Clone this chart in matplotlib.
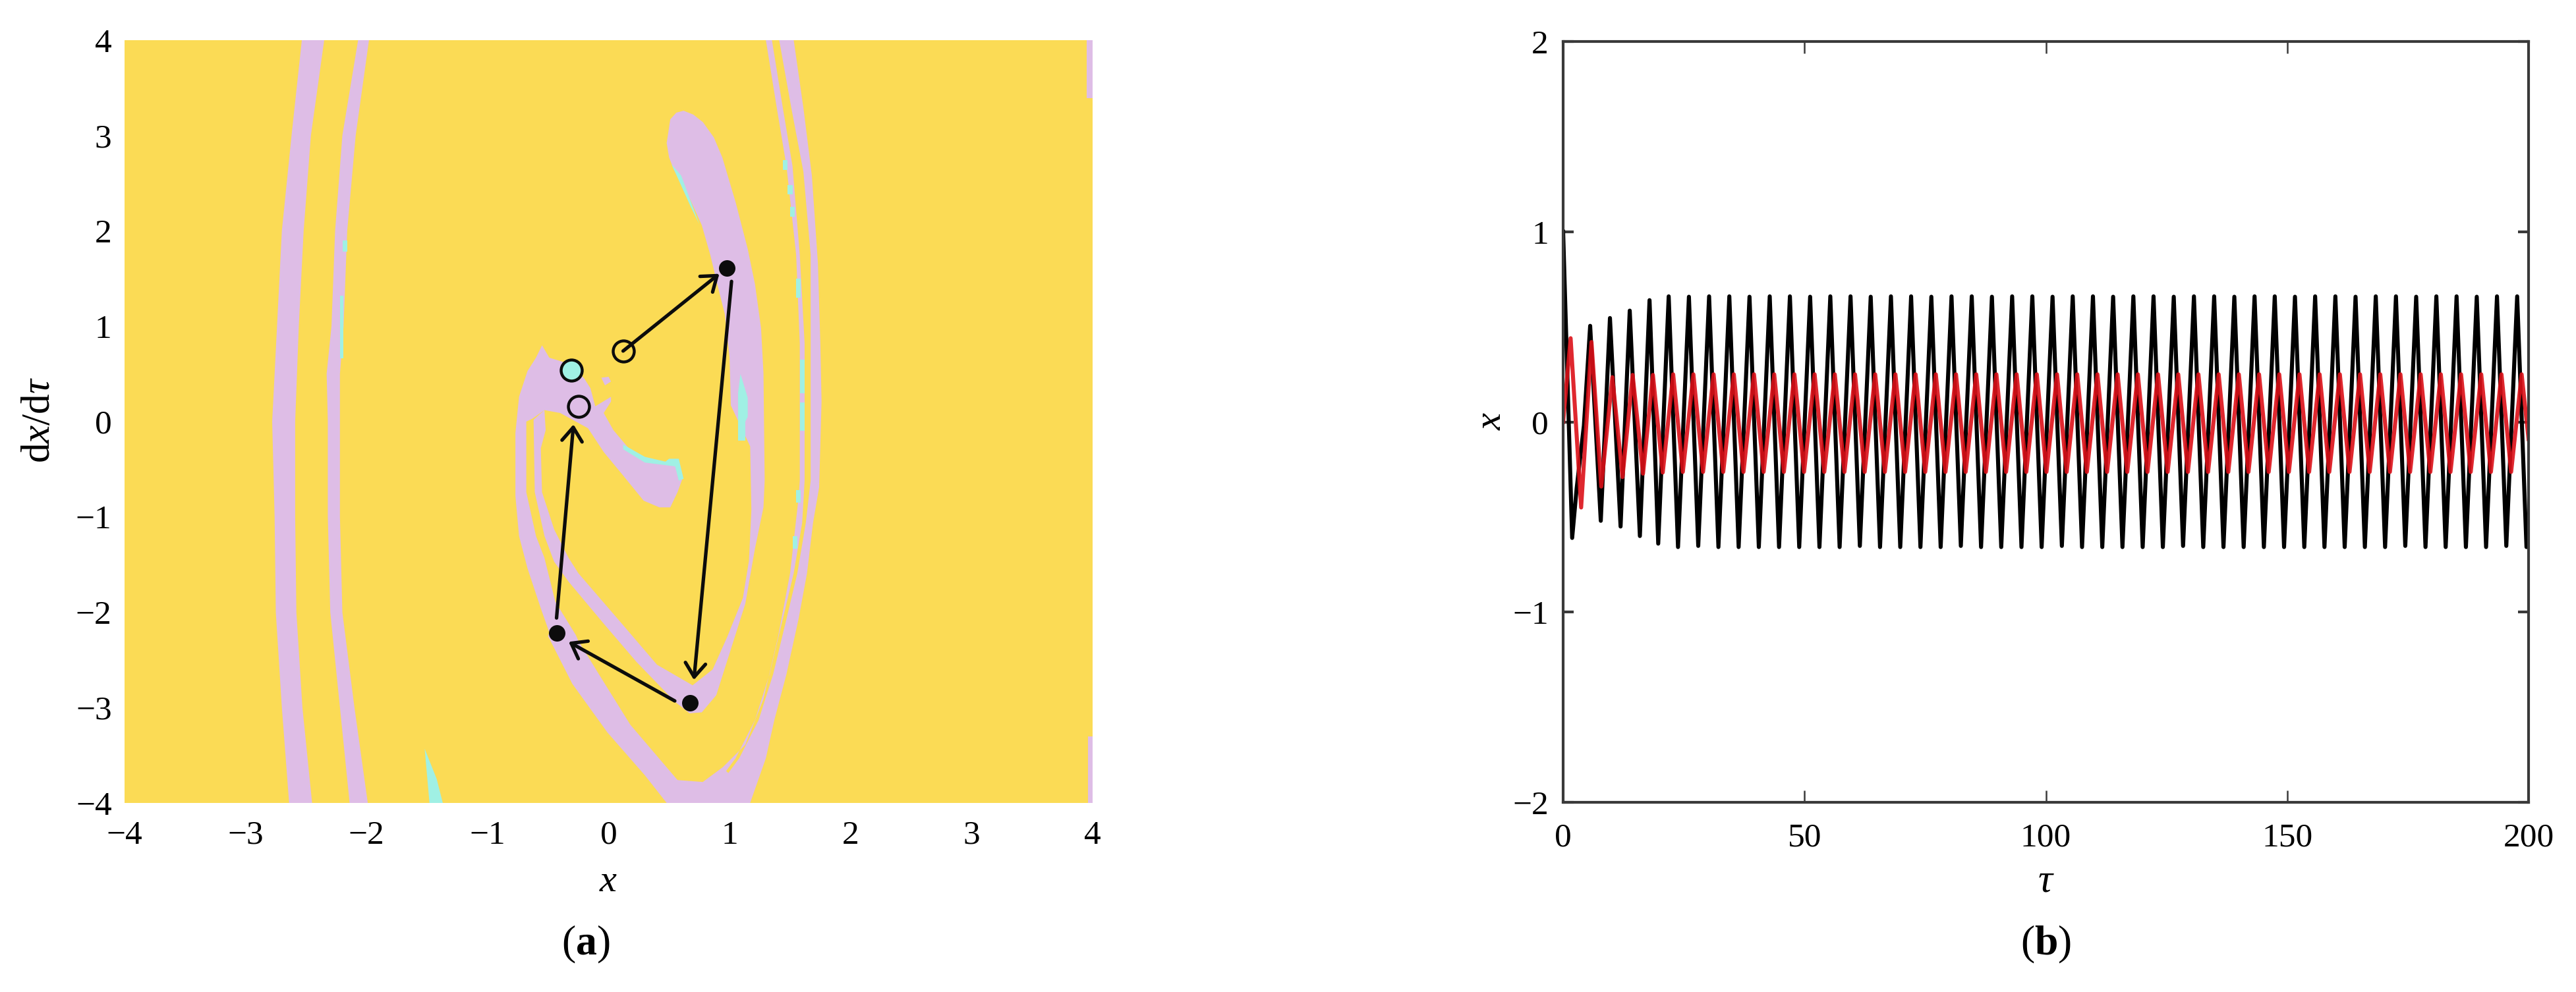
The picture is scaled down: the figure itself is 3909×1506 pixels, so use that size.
import matplotlib.pyplot as plt
import numpy as np

# times-like fonts, mathtext has to follow them
plt.rcParams.update(
    {
        "font.family": "Liberation Serif",
        "font.size": 37,
        "mathtext.fontset": "custom",
        "mathtext.rm": "Liberation Serif",
        "mathtext.it": "Liberation Serif:italic",
        "mathtext.bf": "Liberation Serif:bold",
        "axes.unicode_minus": True,
    }
)

yellow = "#FBDB55"
lilac = "#DEBDE6"
cyan = "#A0F0E4"
spine_col = "#3a3a3a"

# ---- panel (a): basin regions, (x, dx/dtau) outlines
strand_left = [(-2.535, 4), (-2.35, 4), (-2.46, 3), (-2.52, 2), (-2.56, 1), (-2.59, 0), (-2.59, -1),
               (-2.58, -2), (-2.53, -3), (-2.45, -4), (-2.64, -4), (-2.7, -3), (-2.75, -2), (-2.76, -1),
               (-2.78, 0), (-2.74, 1), (-2.7, 2), (-2.62, 3)]
strand_second = [(-2.07, 4), (-1.98, 4), (-2.09, 3), (-2.16, 2), (-2.19, 1), (-2.22, 0.5), (-2.22, -1),
                 (-2.2, -2), (-2.1, -3), (-1.99, -4), (-2.14, -4), (-2.22, -3), (-2.3, -2), (-2.32, -1),
                 (-2.32, 0), (-2.33, 0.5), (-2.29, 1), (-2.26, 2), (-2.2, 3)]
blade = [(0.62, 3.26), (0.7, 3.22), (0.78, 3.14), (0.87, 2.98), (0.94, 2.77), (1.05, 2.3), (1.15, 1.81),
         (1.21, 1.44), (1.26, 0.98), (1.28, 0.51), (1.29, -0.62), (1.28, -0.9), (1.21, -1.33), (1.13, -1.91),
         (1.01, -2.39), (0.89, -2.87), (0.77, -3.05), (0.67, -3.06), (0.55, -2.94), (0.7, -2.76),
         (0.86, -2.6), (0.98, -2.26), (1.11, -1.85), (1.16, -1.46), (1.18, -0.93), (1.17, -0.26),
         (1.01, 0.17), (1.0, 0.67), (0.96, 1.13), (0.91, 1.38), (0.84, 1.75), (0.77, 2.06), (0.66, 2.37),
         (0.54, 2.64), (0.5, 2.77), (0.48, 2.92), (0.51, 3.17), (0.56, 3.24)]
loop = [(-0.55, 0.8), (-0.6, 0.67), (-0.67, 0.53), (-0.74, 0.26), (-0.77, -0.12), (-0.77, -0.78),
        (-0.74, -1.2), (-0.67, -1.54), (-0.56, -1.96), (-0.49, -2.21), (-0.5, -2.25), (-0.3, -2.75),
        (-0.01, -3.26), (0.3, -3.71), (0.48, -4), (0.75, -4), (0.72, -3.85), (0.57, -3.76), (0.18, -3.18),
        (-0.08, -2.65), (-0.25, -2.3), (-0.27, -2.24), (-0.44, -1.89), (-0.53, -1.43), (-0.6, -1.2),
        (-0.68, -0.74), (-0.68, 0), (-0.63, 0.03), (-0.53, 0.12), (-0.4, 0.09), (-0.17, -0.07),
        (-0.04, -0.32), (0.11, -0.55), (0.29, -0.83), (0.42, -0.9), (0.51, -0.9), (0.57, -0.74),
        (0.61, -0.6), (0.58, -0.42), (0.47, -0.44), (0.33, -0.39), (0.18, -0.3), (0.04, -0.09),
        (-0.04, 0.09), (0.02, 0.21), (0.02, 0.26), (-0.11, 0.16), (-0.15, 0.35), (-0.2, 0.45),
        (-0.31, 0.6), (-0.49, 0.67)]
inner_strand = [(-0.62, 0.02), (-0.61, -0.74), (-0.53, -1.2), (-0.45, -1.47), (-0.33, -1.68), (-0.04, -2.12),
                (0.23, -2.52), (0.55, -2.94), (0.7, -2.77), (0.4, -2.55), (0.11, -2.12), (-0.25, -1.59),
                (-0.33, -1.43), (-0.45, -1.13), (-0.55, -0.74), (-0.56, -0.28), (-0.52, -0.09), (-0.53, 0.12)]
arc_outer = [(1.41, 4), (1.53, 4), (1.61, 3.29), (1.68, 2.58), (1.73, 1.66), (1.75, 0.82), (1.76, 0.21),
             (1.74, -0.69), (1.69, -1.06), (1.64, -1.59), (1.57, -2.07), (1.47, -2.65), (1.37, -3.13),
             (1.3, -3.53), (1.17, -4), (0.85, -4), (0.9, -3.84), (1.08, -3.53), (1.24, -3.13), (1.36, -2.65),
             (1.47, -2.07), (1.56, -1.59), (1.63, -1.06), (1.67, -0.62), (1.67, 0.82), (1.67, 1.75),
             (1.61, 2.62), (1.51, 3.29)]
arc_thin = [(1.3, 4), (1.35, 4), (1.44, 3.29), (1.52, 2.68), (1.58, 1.75), (1.62, 0.82), (1.62, -0.62),
            (1.6, -1.06), (1.53, -1.59), (1.44, -2.07), (1.33, -2.65), (1.21, -3.13), (1.05, -3.53),
            (0.87, -3.84), (0.8, -4), (0.72, -4), (0.78, -3.78), (0.94, -3.63), (1.13, -3.39), (1.28, -2.91),
            (1.4, -2.26), (1.5, -1.59), (1.57, -0.8), (1.58, -0.62), (1.58, 0.82), (1.55, 1.75),
            (1.47, 2.68), (1.39, 3.29)]
arc_foot = [(0.57, -3.76), (0.78, -3.78), (0.94, -3.63), (1.02, -3.72), (0.92, -3.86), (0.9, -4), (0.55, -4)]
edge_top = [(3.95, 4), (4, 4), (4, 3.39), (3.95, 3.39)]
edge_bottom = [(3.96, -3.3), (4, -3.3), (4, -4), (3.96, -4)]
spot = [(-0.06, 0.46), (0.0, 0.47), (0.02, 0.42), (-0.03, 0.38)]
lilac_shapes = [strand_left, strand_second, blade, loop, inner_strand, arc_outer, arc_thin, arc_foot,
                edge_top, edge_bottom, spot]

sliver = [(-1.52, -3.43), (-1.48, -4), (-1.37, -4), (-1.42, -3.75)]
blade_edge = [(0.52, 2.7), (0.6, 2.58), (0.75, 2.07), (0.68, 2.25)]
blade_strip = [(1.09, 0.5), (1.15, 0.25), (1.15, 0.05), (1.13, 0), (1.13, -0.2), (1.07, -0.2), (1.07, 0.3)]
diag_edge = [(0.12, -0.24), (0.3, -0.37), (0.47, -0.42), (0.5, -0.39), (0.58, -0.39), (0.62, -0.6),
             (0.58, -0.62), (0.55, -0.47), (0.3, -0.43), (0.12, -0.29)]
second_strip = [(-2.22, 1.32), (-2.19, 1.32), (-2.19, 0.66), (-2.22, 0.66)]
second_tick = [(-2.2, 1.9), (-2.16, 1.9), (-2.16, 1.78), (-2.2, 1.78)]
arc_ticks = [[(1.44, 2.74), (1.48, 2.74), (1.48, 2.64), (1.44, 2.64)],
             [(1.48, 2.48), (1.52, 2.48), (1.52, 2.38), (1.48, 2.38)],
             [(1.5, 2.25), (1.54, 2.25), (1.54, 2.15), (1.5, 2.15)],
             [(1.55, 1.5), (1.59, 1.5), (1.59, 1.3), (1.55, 1.3)],
             [(1.58, 0.65), (1.62, 0.65), (1.62, 0.3), (1.58, 0.3)],
             [(1.58, 0.2), (1.62, 0.2), (1.62, -0.1), (1.58, -0.1)],
             [(1.55, -0.72), (1.59, -0.72), (1.59, -0.85), (1.55, -0.85)],
             [(1.52, -1.2), (1.56, -1.2), (1.56, -1.33), (1.52, -1.33)]]
cyan_shapes = [sliver, blade_edge, blade_strip, diag_edge, second_strip, second_tick] + arc_ticks

# map points and the arrows between them
dots = [(0.98, 1.61), (0.67, -2.95), (-0.43, -2.22)]
open_point = (0.12, 0.74)
cyan_point = (-0.31, 0.54)
lilac_point = (-0.25, 0.16)
arrow_tails = [(0.12, 0.74), (1.016, 1.47), (0.547, -2.93), (-0.43, -2.06)]
arrow_tips = [(0.915, 1.55), (0.705, -2.71), (-0.33, -2.31), (-0.29, -0.03)]

# ---- panel (b): turning points of the two traces
black_start_t = [0, 2.8, 4.3, 200]
black_start_x = [1.0, -0.35, -0.02, -0.64]
black_peak_t = [5.6, 9.7, 13.8, 17.9,
                21.87, 26.06, 30.24, 34.43, 38.61, 42.8, 46.98, 51.17, 55.35, 59.54,
                63.72, 67.91, 72.09, 76.28, 80.46, 84.65, 88.83, 93.02, 97.2, 101.39,
                105.57, 109.76, 113.94, 118.13, 122.31, 126.5, 130.68, 134.87, 139.05, 143.24,
                147.42, 151.61, 155.79, 159.98, 164.16, 168.35, 172.53, 176.72, 180.9, 185.09,
                189.27, 193.46, 197.64]
black_peak_x = [0.505, 0.546, 0.585, 0.64,
                0.66, 0.658, 0.66, 0.66, 0.658, 0.66, 0.66, 0.658, 0.66, 0.66,
                0.658, 0.66, 0.66, 0.658, 0.66, 0.66, 0.658, 0.66, 0.66, 0.658,
                0.66, 0.66, 0.658, 0.66, 0.66, 0.658, 0.66, 0.66, 0.658, 0.66,
                0.66, 0.658, 0.66, 0.66, 0.658, 0.66, 0.66, 0.658, 0.66, 0.66,
                0.658, 0.66, 0.66]
black_trough_t = [1.87, 7.8, 11.9, 15.9, 19.7,
                  23.8, 27.99, 32.17, 36.36, 40.54, 44.73, 48.91, 53.1, 57.28, 61.47,
                  65.65, 69.84, 74.02, 78.21, 82.39, 86.58, 90.76, 94.95, 99.13, 103.32,
                  107.5, 111.69, 115.87, 120.06, 124.24, 128.43, 132.61, 136.8, 140.98, 145.17,
                  149.35, 153.54, 157.72, 161.91, 166.09, 170.28, 174.46, 178.65, 182.83, 187.02,
                  191.2, 195.39, 199.57]
black_trough_x = [-0.61, -0.52, -0.55, -0.6, -0.64,
                  -0.658, -0.652, -0.658, -0.658, -0.658, -0.658, -0.658, -0.658, -0.658, -0.652,
                  -0.658, -0.658, -0.658, -0.658, -0.652, -0.658, -0.658, -0.658, -0.658, -0.652,
                  -0.658, -0.658, -0.658, -0.658, -0.658, -0.652, -0.658, -0.658, -0.658, -0.658,
                  -0.658, -0.658, -0.658, -0.658, -0.658, -0.658, -0.652, -0.658, -0.658, -0.658,
                  -0.658, -0.652, -0.658]
red_start_t = [0, 200]
red_start_x = [0.0, -0.09]
red_peak_t = [1.55, 5.87, 10.2, 14.4, 18.6,
              22.8, 26.99, 31.17, 35.36, 39.54, 43.73, 47.91, 52.1, 56.28, 60.47,
              64.65, 68.84, 73.02, 77.21, 81.39, 85.58, 89.76, 93.95, 98.13, 102.32,
              106.5, 110.69, 114.87, 119.06, 123.24, 127.43, 131.61, 135.8, 139.98, 144.17,
              148.35, 152.54, 156.72, 160.91, 165.09, 169.28, 173.46, 177.65, 181.83, 186.02,
              190.2, 194.39, 198.57]
red_peak_x = [0.44, 0.42, 0.235, 0.247, 0.247,
              0.25, 0.25, 0.25, 0.25, 0.25, 0.25, 0.25, 0.25, 0.25, 0.25,
              0.25, 0.25, 0.25, 0.25, 0.25, 0.25, 0.25, 0.25, 0.25, 0.25,
              0.25, 0.25, 0.25, 0.25, 0.25, 0.25, 0.25, 0.25, 0.25, 0.25,
              0.25, 0.25, 0.25, 0.25, 0.25, 0.25, 0.25, 0.25, 0.25, 0.25,
              0.25, 0.25, 0.25]
red_trough_t = [3.73, 7.9, 12.3, 16.55, 20.64,
                24.8, 28.99, 33.17, 37.36, 41.54, 45.73, 49.91, 54.1, 58.28, 62.47,
                66.65, 70.84, 75.02, 79.21, 83.39, 87.58, 91.76, 95.95, 100.13, 104.32,
                108.5, 112.69, 116.87, 121.06, 125.24, 129.43, 133.61, 137.8, 141.98, 146.17,
                150.35, 154.54, 158.72, 162.91, 167.09, 171.28, 175.46, 179.65, 183.83, 188.02,
                192.2, 196.39]
red_trough_x = [-0.45, -0.34, -0.29, -0.272, -0.266,
                -0.263, -0.263, -0.263, -0.263, -0.263, -0.263, -0.263, -0.263, -0.263, -0.263,
                -0.263, -0.263, -0.263, -0.263, -0.263, -0.263, -0.263, -0.263, -0.263, -0.263,
                -0.263, -0.263, -0.263, -0.263, -0.263, -0.263, -0.263, -0.263, -0.263, -0.263,
                -0.263, -0.263, -0.263, -0.263, -0.263, -0.263, -0.263, -0.263, -0.263, -0.263,
                -0.263, -0.263]

map_ticks = [-4, -3, -2, -1, 0, 1, 2, 3, 4]
time_ticks = [0, 50, 100, 150, 200]
x_ticks = [-2, -1, 0, 1, 2]


def merge_trace(*parts):
    t = np.concatenate(parts[0::2])
    x = np.concatenate(parts[1::2])
    order = np.argsort(t)
    return t[order], x[order]


W, H = 3909, 1506
fig = plt.figure(figsize=(W / 100, H / 100), dpi=100)


def axes_px(left, top, right, bottom):
    return fig.add_axes([left / W, 1 - bottom / H, (right - left) / W, (bottom - top) / H])


# panel (a)
ax1 = axes_px(189, 61, 1658, 1219)
ax1.set_facecolor(yellow)
for shape in lilac_shapes:
    ax1.fill(*zip(*shape), color=lilac, lw=0)
for shape in cyan_shapes:
    ax1.fill(*zip(*shape), color=cyan, lw=0)

for tail, tip in zip(arrow_tails, arrow_tips):
    ax1.annotate(
        "",
        xy=tip,
        xytext=tail,
        arrowprops=dict(
            arrowstyle="->,head_length=15,head_width=11",
            color="#0c0c0c",
            lw=3.8,
            shrinkA=0,
            shrinkB=0,
            mutation_scale=1,
        ),
        zorder=3,
    )
ax1.plot(*zip(*dots), "o", color="#0c0c0c", ms=18, mew=0, zorder=4)
ax1.plot(*open_point, "o", mfc="none", mec="#0c0c0c", ms=23, mew=3.2, zorder=4)
ax1.plot(*cyan_point, "o", mfc=cyan, mec="#0c0c0c", ms=23, mew=3.2, zorder=4)
ax1.plot(*lilac_point, "o", mfc=lilac, mec="#0c0c0c", ms=23, mew=3.2, zorder=4)

ax1.set_xlim(-4, 4)
ax1.set_ylim(-4, 4)
ax1.set_xticks(map_ticks)
ax1.set_yticks(map_ticks)
ax1.tick_params(axis="x", length=0, pad=19)
ax1.tick_params(axis="y", length=0, pad=14)
for s in ax1.spines.values():
    s.set_visible(False)

# panel (b)
ax2 = axes_px(2372, 63, 3837, 1218)
t_black, x_black = merge_trace(black_start_t, black_start_x, black_peak_t, black_peak_x,
                               black_trough_t, black_trough_x)
t_red, x_red = merge_trace(red_start_t, red_start_x, red_peak_t, red_peak_x,
                           red_trough_t, red_trough_x)
ax2.plot(t_black, x_black, color="black", lw=4.4, solid_joinstyle="round")
ax2.plot(t_red, x_red, color="#dc1018", lw=4.4, alpha=0.9, solid_joinstyle="round")
ax2.set_xlim(0, 200)
ax2.set_ylim(-2, 2)
ax2.set_xticks(time_ticks)
ax2.set_yticks(x_ticks)
ax2.tick_params(axis="x", direction="in", length=13, width=1.8, color=spine_col, top=True, pad=22)
ax2.tick_params(axis="y", direction="in", length=11.5, width=3, color=spine_col, right=True, pad=16)
for s in ax2.spines.values():
    s.set_linewidth(3.0)
    s.set_color(spine_col)

# axis names and panel letters sit at fixed pixels of the page
fig.text(923 / W, 1 - 1339 / H, "x", style="italic", size=42, ha="center", va="center")
fig.text(60 / W, 1 - 638 / H, r"$\mathrm{d}x/\mathrm{d}\tau$", size=44, rotation=90, ha="center", va="center")
fig.text(3105 / W, 1 - 1339 / H, r"$\tau$", size=44, ha="center", va="center")
fig.text(2264 / W, 1 - 640 / H, "x", style="italic", size=42, rotation=90, ha="center", va="center")
fig.text(889 / W, 1 - 1434 / H, r"($\mathbf{a}$)", size=46, ha="center", va="center")
fig.text(3105 / W, 1 - 1434 / H, r"($\mathbf{b}$)", size=46, ha="center", va="center")

plt.savefig("out.png", dpi=100)
